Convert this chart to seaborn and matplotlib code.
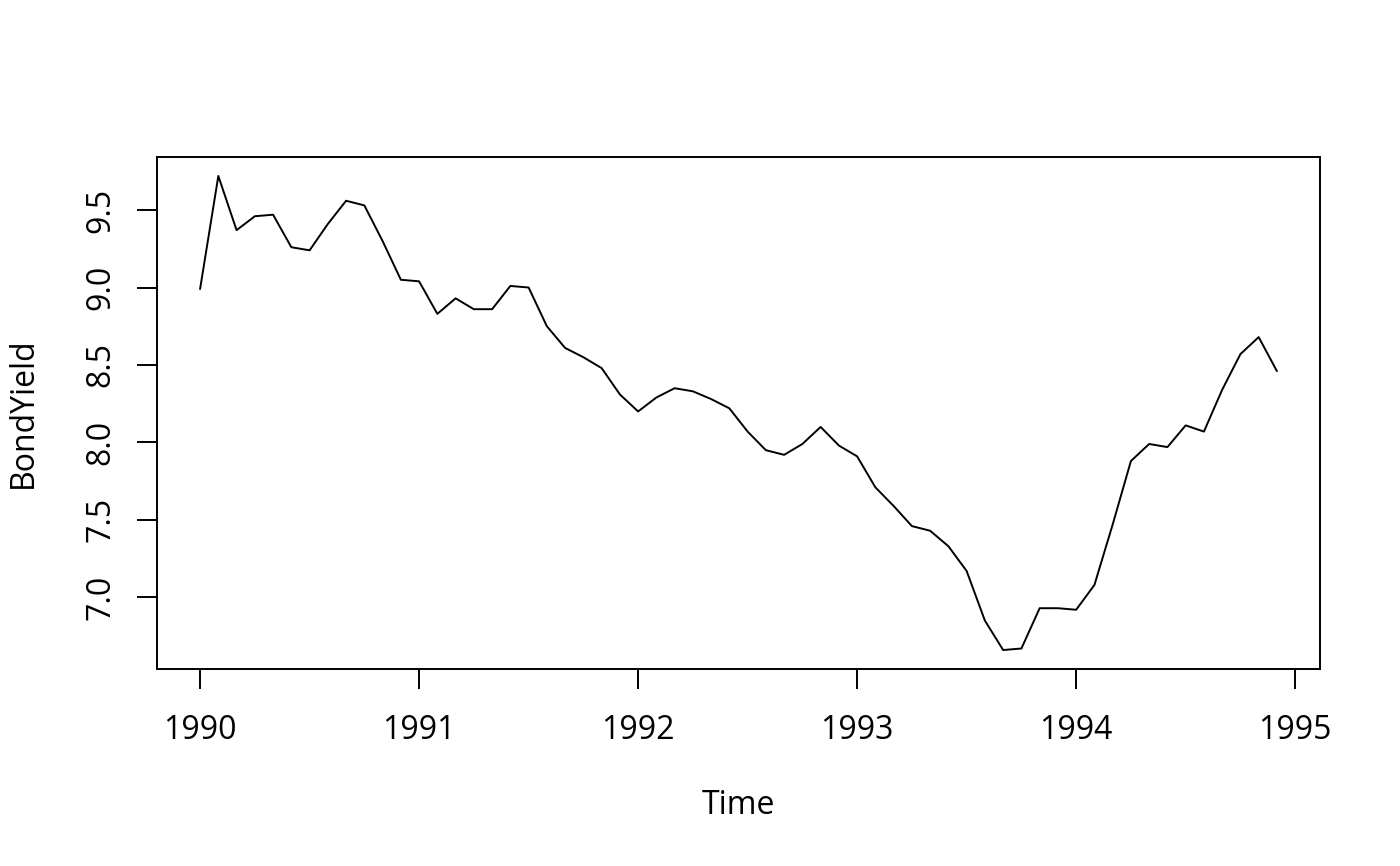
import matplotlib
matplotlib.use("Agg")
import matplotlib.pyplot as plt
import seaborn as sns
import numpy as np
import pandas as pd

years = [1990, 1991, 1992, 1993, 1994]
bond_yield = [
    8.99, 9.72, 9.37, 9.46, 9.47, 9.26, 9.24, 9.41, 9.56, 9.53, 9.30, 9.05,
    9.04, 8.83, 8.93, 8.86, 8.86, 9.01, 9.00, 8.75, 8.61, 8.55, 8.48, 8.31,
    8.20, 8.29, 8.35, 8.33, 8.28, 8.22, 8.07, 7.95, 7.92, 7.99, 8.10, 7.98,
    7.91, 7.71, 7.59, 7.46, 7.43, 7.33, 7.17, 6.85, 6.66, 6.67, 6.93, 6.93,
    6.92, 7.08, 7.47, 7.88, 7.99, 7.97, 8.11, 8.07, 8.34, 8.57, 8.68, 8.46,
]
x_ticks = [1990, 1991, 1992, 1993, 1994, 1995]
y_ticks = [7.0, 7.5, 8.0, 8.5, 9.0, 9.5]
y_tick_labels = ["7.0", "7.5", "8.0", "8.5", "9.0", "9.5"]

time = [y + m / 12 for y in years for m in range(12)]
df = pd.DataFrame({"Time": time, "BondYield": bond_yield})

sns.set_theme(style="white")
plt.rcParams["font.family"] = ["Open Sans", "DejaVu Sans"]

fig = plt.figure(figsize=(14, 8.66), dpi=100)
ax = fig.add_axes([157 / 1400, 1 - 669 / 866, (1320 - 157) / 1400, (669 - 157) / 866])

sns.lineplot(data=df, x="Time", y="BondYield", ax=ax, color="black", linewidth=1.4)

xr = max(time) - min(time)
ax.set_xlim(min(time) - 0.04 * xr, max(time) + 0.04 * xr)
yr = max(bond_yield) - min(bond_yield)
ax.set_ylim(min(bond_yield) - 0.04 * yr, max(bond_yield) + 0.04 * yr)

ax.set_xticks(x_ticks)
ax.set_xticklabels([str(t) for t in x_ticks])
ax.set_yticks(y_ticks)
ax.set_yticklabels(y_tick_labels, rotation=90, va="center")

for s in ax.spines.values():
    s.set_color("black")
    s.set_linewidth(1.4)

ax.tick_params(axis="both", direction="out", length=14.5, width=1.4, color="black",
               labelsize=23, labelcolor="black", bottom=True, left=True)
ax.tick_params(axis="x", pad=18)
ax.tick_params(axis="y", pad=14)

ax.set_xlabel("Time", fontsize=23, color="black", labelpad=30)
ax.set_ylabel("BondYield", fontsize=23, color="black", labelpad=32)
ax.grid(False)

fig.savefig("out.png", dpi=100, facecolor="white")
